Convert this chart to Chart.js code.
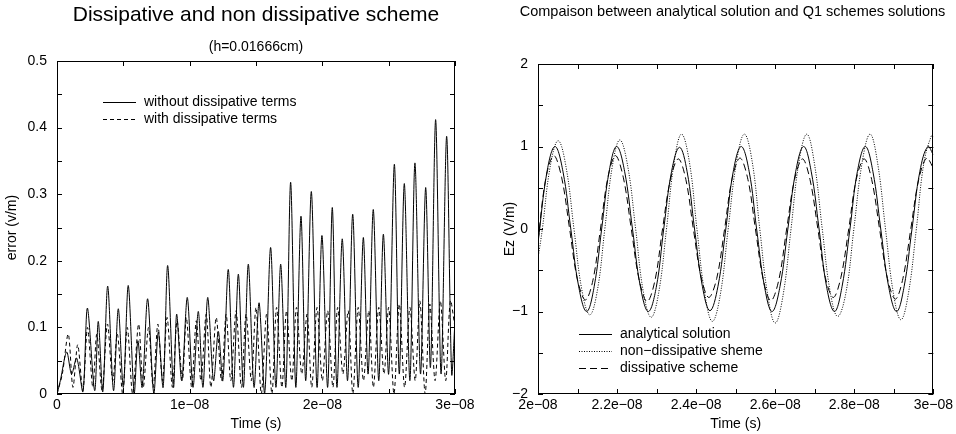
<!DOCTYPE html>
<html>
<head>
<meta charset="utf-8">
<script src="https://cdn.jsdelivr.net/npm/chart.js@4.4.1/dist/chart.umd.min.js"></script>
<style>
  html, body { margin: 0; padding: 0; background: #fff; }
  #wrap { position: relative; width: 956px; height: 434px; }
  .panel { position: absolute; top: 0; width: 478px; height: 434px; }
</style>
</head>
<body>
<div id="wrap">
  <div class="panel" style="left:0"><canvas id="left" width="478" height="434"></canvas></div>
  <div class="panel" style="left:478px"><canvas id="right" width="478" height="434"></canvas></div>
</div>
<script>
// ---- left panel: error vs time (time in ns, labelled in seconds) ----
const errTimeNoDiss = [0.0, 0.25, 0.73, 1.1, 1.48, 1.95, 2.29, 2.84, 3.11, 3.45,
  3.82, 4.26, 4.62, 5.0, 5.37, 5.82, 6.1, 6.42, 6.83, 7.3,
  7.64, 8.0, 8.34, 8.78, 9.02, 9.4, 9.82, 10.25, 10.65, 11.0,
  11.36, 11.8, 12.16, 12.5, 12.91, 13.3, 13.67, 14.05, 14.42, 14.85,
  15.23, 15.65, 16.1, 16.5, 16.86, 17.25, 17.61, 18.0, 18.39, 18.75,
  19.17, 19.6, 19.97, 20.4, 20.75, 21.1, 21.5, 21.9, 22.29, 22.7,
  23.09, 23.45, 23.84, 24.25, 24.6, 25.0, 25.43, 25.8, 26.18, 26.6,
  26.98, 27.4, 27.79, 28.15, 28.54, 28.95, 29.37, 29.75, 30.0];
const errNoDiss = [0.0, 0.02, 0.063, 0.03, 0.054, 0.003, 0.129, 0.005, 0.109, 0.003,
  0.162, 0.005, 0.128, 0.01, 0.163, 0.0, 0.08, 0.01, 0.143, 0.0,
  0.093, 0.01, 0.193, 0.01, 0.12, 0.02, 0.145, 0.01, 0.124, 0.01,
  0.145, 0.02, 0.094, 0.02, 0.187, 0.01, 0.18, 0.01, 0.195, 0.01,
  0.137, 0.0, 0.22, 0.01, 0.195, 0.01, 0.318, 0.01, 0.267, 0.02,
  0.304, 0.01, 0.238, 0.01, 0.28, 0.01, 0.233, 0.02, 0.27, 0.01,
  0.235, 0.03, 0.277, 0.02, 0.24, 0.03, 0.345, 0.03, 0.316, 0.02,
  0.347, 0.03, 0.31, 0.04, 0.412, 0.03, 0.387, 0.03, 0.11];

const errTimeDiss = [0.0, 0.4, 0.85, 1.2, 1.56, 1.95, 2.3, 2.7, 3.0, 3.4,
  3.8, 4.2, 4.55, 4.95, 5.3, 5.7, 6.15, 6.5, 6.9, 7.25,
  7.6, 7.95, 8.3, 8.7, 9.05, 9.45, 9.75, 10.15, 10.5, 10.85,
  11.25, 11.6, 12.0, 12.4, 12.75, 13.1, 13.5, 13.9, 14.25, 14.65,
  15.0, 15.4, 15.8, 16.2, 16.55, 16.95, 17.3, 17.7, 18.05, 18.45,
  18.85, 19.2, 19.6, 20.0, 20.4, 20.8, 21.15, 21.55, 21.95, 22.3,
  22.7, 23.1, 23.5, 23.85, 24.25, 24.65, 25.0, 25.4, 25.8, 26.2,
  26.6, 27.0, 27.35, 27.75, 28.1, 28.5, 28.9, 29.3, 29.65, 30.0];
const errDiss = [0.0, 0.03, 0.09, 0.01, 0.074, 0.005, 0.1, 0.01, 0.09, 0.005,
  0.105, 0.02, 0.09, 0.0, 0.1, 0.0, 0.105, 0.01, 0.1, 0.01,
  0.105, 0.02, 0.115, 0.01, 0.11, 0.02, 0.115, 0.01, 0.11, 0.02,
  0.12, 0.01, 0.115, 0.02, 0.12, 0.02, 0.125, 0.01, 0.12, 0.02,
  0.13, 0.0, 0.12, 0.0, 0.13, 0.01, 0.125, 0.02, 0.13, 0.03,
  0.12, 0.01, 0.13, 0.02, 0.125, 0.01, 0.13, 0.03, 0.125, 0.0,
  0.13, 0.02, 0.125, 0.01, 0.13, 0.03, 0.13, 0.0, 0.135, 0.01,
  0.13, 0.02, 0.14, 0.0, 0.135, 0.02, 0.14, 0.02, 0.14, 0.1];

const leftXTickLabels = ['0', '1e\u221208', '2e\u221208', '3e\u221208'];
const leftYTickLabels = ['0', '0.1', '0.2', '0.3', '0.4', '0.5'];

// ---- right panel: Ez vs time ----
const ezTimeAnalytic = [20.00, 20.23, 20.43, 20.63, 20.83, 21.03, 21.23, 21.42, 21.61,
  21.80, 21.99, 22.19, 22.39, 22.59, 22.79, 22.99, 23.18,
  23.38, 23.58, 23.77, 23.96, 24.16, 24.35, 24.55, 24.75,
  24.94, 25.14, 25.34, 25.53, 25.73, 25.92, 26.12, 26.32,
  26.52, 26.72, 26.91, 27.11, 27.30, 27.50, 27.69, 27.89,
  28.08, 28.28, 28.47, 28.67, 28.87, 29.07, 29.26, 29.46,
  29.66, 29.86, 30.00];
const ezAnalytic = [-0.17, 0.7, 1.0, 0.7, 0, -0.7, -1.0, -0.7, 0,
  0.7, 1.0, 0.7, 0, -0.7, -1.0, -0.71, 0,
  0.7, 0.99, 0.7, 0, -0.7, -0.99, -0.7, 0,
  0.7, 1.0, 0.7, 0, -0.7, -1.0, -0.7, 0,
  0.7, 1.0, 0.7, 0, -0.7, -1.0, -0.7, 0,
  0.7, 1.0, 0.7, 0, -0.7, -1.0, -0.7, 0,
  0.7, 1.0, 0.9];

const ezTimeNonDiss = [20.00, 20.11, 20.31, 20.51, 20.71, 20.91, 21.11, 21.31, 21.50,
  21.69, 21.88, 22.07, 22.27, 22.47, 22.66, 22.86, 23.05,
  23.25, 23.44, 23.63, 23.83, 24.02, 24.22, 24.41, 24.61,
  24.81, 25.02, 25.22, 25.42, 25.61, 25.81, 26.00, 26.20,
  26.40, 26.60, 26.80, 26.99, 27.19, 27.39, 27.58, 27.79,
  27.99, 28.20, 28.40, 28.59, 28.79, 28.99, 29.18, 29.37,
  29.57, 29.76, 29.95, 30.00];
const ezNonDiss = [-0.36, 0, 0.76, 1.07, 0.75, 0, -0.74, -1.04, -0.75,
  0, 0.76, 1.08, 0.76, 0, -0.75, -1.07, -0.78,
  0, 0.8, 1.15, 0.81, 0, -0.79, -1.12, -0.8,
  0, 0.81, 1.15, 0.81, 0, -0.8, -1.14, -0.8,
  0, 0.81, 1.15, 0.8, 0, -0.76, -1.06, -0.77,
  0, 0.81, 1.15, 0.8, 0, -0.78, -1.10, -0.78,
  0, 0.8, 1.13, 1.12];

const ezTimeDiss = [20.00, 20.20, 20.40, 20.60, 20.80, 21.00, 21.20, 21.39, 21.58,
  21.77, 21.96, 22.16, 22.36, 22.56, 22.76, 22.96, 23.15,
  23.35, 23.55, 23.74, 23.93, 24.13, 24.32, 24.52, 24.72,
  24.91, 25.11, 25.31, 25.50, 25.70, 25.89, 26.09, 26.29,
  26.49, 26.69, 26.88, 27.08, 27.27, 27.47, 27.66, 27.86,
  28.05, 28.25, 28.44, 28.64, 28.84, 29.04, 29.23, 29.43,
  29.63, 29.83, 30.00];
const ezDiss = [-0.14, 0.62, 0.89, 0.62, 0, -0.62, -0.86, -0.62, 0,
  0.63, 0.89, 0.62, 0, -0.62, -0.88, -0.62, 0,
  0.6, 0.85, 0.6, 0, -0.59, -0.83, -0.6, 0,
  0.61, 0.86, 0.6, 0, -0.62, -0.87, -0.62, 0,
  0.6, 0.85, 0.6, 0, -0.59, -0.83, -0.59, 0,
  0.6, 0.85, 0.6, 0, -0.6, -0.85, -0.6, 0,
  0.6, 0.86, 0.74];

const rightXTickLabels = ['2e\u221208', '2.2e\u221208', '2.4e\u221208', '2.6e\u221208', '2.8e\u221208', '3e\u221208'];
const rightYTickLabels = ['\u22122', '\u22121', '0', '1', '2'];
const rightTitle = 'Compaison between analytical solution and Q1 schemes solutions';

Chart.defaults.font.family = "'Liberation Sans', Arial, Helvetica, sans-serif";
Chart.defaults.font.size = 14;
Chart.defaults.color = '#000';

const pts = (xs, ys) => xs.map((x, i) => ({ x: x, y: ys[i] }));

// gnuplot-like frame, inward ticks on all four sides, and a key inside the plot
const framePlugin = {
  id: 'frame',
  afterDatasetsDraw(chart, args, opts) {
    const ctx = chart.ctx;
    const a = chart.chartArea;
    const len = 5;
    ctx.save();
    ctx.strokeStyle = '#000';
    ctx.lineWidth = 1;
    ctx.setLineDash([]);
    ctx.strokeRect(Math.round(a.left) + 0.5, Math.round(a.top) + 0.5,
      Math.round(a.right - a.left) - 1, Math.round(a.bottom - a.top) - 1);
    const xs = chart.scales.x, ys = chart.scales.y;
    ctx.beginPath();
    xs.ticks.forEach(t => {
      const px = Math.round(xs.getPixelForValue(t.value)) + 0.5;
      ctx.moveTo(px, a.bottom); ctx.lineTo(px, a.bottom - len);
      ctx.moveTo(px, a.top); ctx.lineTo(px, a.top + len);
    });
    ys.ticks.forEach(t => {
      const py = Math.round(ys.getPixelForValue(t.value)) + 0.5;
      ctx.moveTo(a.left, py); ctx.lineTo(a.left + len, py);
      ctx.moveTo(a.right, py); ctx.lineTo(a.right - len, py);
    });
    ctx.stroke();

    ctx.fillStyle = '#000';
    ctx.textBaseline = 'middle';

    // heading drawn at its own place (not squeezed into the plot width)
    if (opts.heading) {
      ctx.font = opts.heading.size + "px 'Liberation Sans', Arial, sans-serif";
      ctx.textAlign = 'center';
      ctx.fillText(opts.heading.text, opts.heading.x, opts.heading.y);
    }

    // key
    ctx.font = "14px 'Liberation Sans', Arial, sans-serif";
    ctx.textAlign = 'left';
    chart.data.datasets.forEach((ds, i) => {
      const y = Math.round(opts.y + i * opts.dy) + 0.5;
      ctx.setLineDash(ds.borderDash || []);
      ctx.beginPath();
      ctx.moveTo(opts.x1, y);
      ctx.lineTo(opts.x2, y);
      ctx.stroke();
      ctx.fillText(ds.label, opts.tx, y);
    });
    ctx.restore();
  }
};

const lineStyle = { borderColor: '#000', borderWidth: 1, pointRadius: 0, fill: false };

new Chart(document.getElementById('left'), {
  type: 'line',
  data: {
    datasets: [
      { ...lineStyle, label: 'without dissipative terms', data: pts(errTimeNoDiss, errNoDiss), tension: 0.3 },
      { ...lineStyle, label: 'with dissipative terms', data: pts(errTimeDiss, errDiss), borderDash: [4, 3], tension: 0.3 }
    ]
  },
  options: {
    responsive: false,
    animation: false,
    devicePixelRatio: 1,
    layout: { padding: { left: 0, right: 23, top: 0, bottom: 0 } },
    plugins: {
      legend: { display: false },
      tooltip: { enabled: false },
      title: {
        display: true, text: 'Dissipative and non dissipative scheme', fullSize: false,
        font: { size: 21, weight: 'normal' }, padding: { top: 3, bottom: 10 }
      },
      subtitle: {
        display: true, text: '(h=0.01666cm)', fullSize: false,
        font: { size: 14, weight: 'normal' }, padding: { top: 1, bottom: 5 }
      },
      frame: { x1: 103, x2: 136, tx: 144, y: 101.5, dy: 17.5 }
    },
    scales: {
      x: {
        type: 'linear', min: 0, max: 30,
        afterFit: s => { s.height = 40; },
        grid: { display: false, drawTicks: false },
        border: { display: false },
        ticks: {
          stepSize: 5, autoSkip: false, maxRotation: 0, padding: 3,
          callback: v => {
            const i = Math.round(v / 10);
            return Math.abs(v - i * 10) < 1e-6 ? leftXTickLabels[i] : '';
          }
        },
        title: { display: true, text: 'Time (s)', padding: { top: 0, bottom: 1 } }
      },
      y: {
        type: 'linear', min: 0, max: 0.5,
        afterFit: s => { s.width = 57; },
        grid: { display: false, drawTicks: false },
        border: { display: false },
        ticks: {
          stepSize: 0.05, autoSkip: false, padding: 10,
          callback: v => {
            const i = Math.round(v * 10);
            return Math.abs(v * 10 - i) < 1e-6 ? leftYTickLabels[i] : '';
          }
        },
        title: { display: true, text: 'error (v/m)', padding: { top: 4, bottom: 0 } }
      }
    }
  },
  plugins: [framePlugin]
});

new Chart(document.getElementById('right'), {
  type: 'line',
  data: {
    datasets: [
      { ...lineStyle, label: 'analytical solution', data: pts(ezTimeAnalytic, ezAnalytic), tension: 0.4 },
      { ...lineStyle, label: 'non\u2212dissipative sheme', data: pts(ezTimeNonDiss, ezNonDiss), borderDash: [1, 1.5], tension: 0.4 },
      { ...lineStyle, label: 'dissipative scheme', data: pts(ezTimeDiss, ezDiss), borderDash: [7, 4], tension: 0.35 }
    ]
  },
  options: {
    responsive: false,
    animation: false,
    devicePixelRatio: 1,
    layout: { padding: { left: 20, right: 21, top: 64, bottom: 0 } },
    plugins: {
      legend: { display: false },
      tooltip: { enabled: false },
      title: { display: false },
      frame: {
        x1: 101, x2: 134, tx: 142, y: 334, dy: 17.2,
        heading: { text: rightTitle, size: 14.5, x: 254.5, y: 12 }
      }
    },
    scales: {
      x: {
        type: 'linear', min: 20, max: 30,
        afterFit: s => { s.height = 40; },
        grid: { display: false, drawTicks: false },
        border: { display: false },
        ticks: {
          stepSize: 1, autoSkip: false, maxRotation: 0, padding: 3,
          callback: v => {
            const i = Math.round((v - 20) / 2);
            return Math.abs(v - 20 - i * 2) < 1e-6 ? rightXTickLabels[i] : '';
          }
        },
        title: { display: true, text: 'Time (s)', padding: { top: 0, bottom: 1 } }
      },
      y: {
        type: 'linear', min: -2, max: 2,
        afterFit: s => { s.width = 40; },
        grid: { display: false, drawTicks: false },
        border: { display: false },
        ticks: {
          stepSize: 0.5, autoSkip: false, padding: 10,
          callback: v => {
            const i = Math.round(v);
            return Math.abs(v - i) < 1e-6 ? rightYTickLabels[i + 2] : '';
          }
        },
        title: { display: true, text: 'Ez (V/m)', padding: { top: 4, bottom: 0 } }
      }
    }
  },
  plugins: [framePlugin]
});
</script>
</body>
</html>
